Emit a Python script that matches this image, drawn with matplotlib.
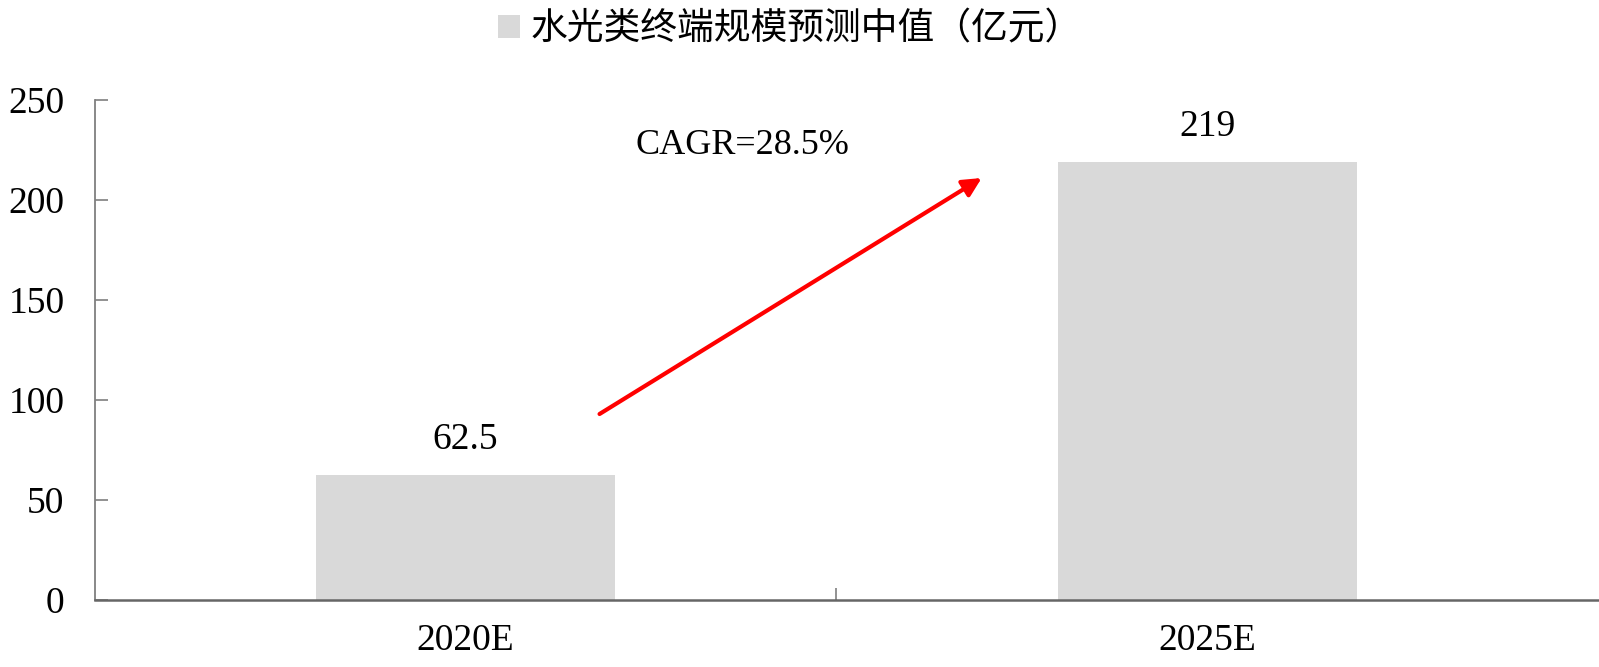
import matplotlib.pyplot as plt
from matplotlib.patches import Patch
from matplotlib.ticker import FixedLocator

plt.rcParams['font.family'] = ['Liberation Serif', 'Noto Sans CJK SC', 'DejaVu Sans']

# data
categories = ['2020E', '2025E']
values = [62.5, 219]
value_labels = ['62.5', '219']
series_name = '水光类终端规模预测中值（亿元）'
cagr_text = 'CAGR=28.5%'

bar_color = '#d9d9d9'
axis_color = '#7f7f7f'

fig = plt.figure(figsize=(15.99, 6.67), dpi=100)
ax = fig.add_axes([95 / 1599, 67 / 667, 1504 / 1599, 500 / 667])

x = list(range(len(categories)))
ax.bar(x, values, width=0.403, color=bar_color, zorder=2)

for xi, v, lab in zip(x, values, value_labels):
    ax.annotate(lab, (xi, v), xytext=(0, 13), textcoords='offset points',
                ha='center', va='bottom', fontsize=27)

ax.set_xlim(-0.499, 1.528)
ax.set_ylim(0, 250)
ax.set_yticks([0, 50, 100, 150, 200, 250])
ax.set_xticks(x)
ax.set_xticklabels(categories)
ax.xaxis.set_minor_locator(FixedLocator([0.5]))

for s in ['top', 'right']:
    ax.spines[s].set_visible(False)
ax.spines['left'].set_color(axis_color)
ax.spines['left'].set_linewidth(1.3)
ax.spines['bottom'].set_color('#666666')
ax.spines['bottom'].set_linewidth(1.8)

ax.tick_params(axis='y', direction='in', length=9, width=1.2, color=axis_color,
               labelsize=27, pad=22)
ax.tick_params(axis='x', which='major', length=0, labelsize=27, pad=17)
ax.tick_params(axis='x', which='minor', direction='in', length=9, width=1.2,
               color=axis_color)

# growth arrow
ax.annotate('', xy=(0.696, 211), xytext=(0.181, 93),
            arrowprops=dict(arrowstyle='-|>', color='red', lw=3,
                            mutation_scale=28, shrinkA=0, shrinkB=0))
ax.text(0.374, 227.5, cagr_text, ha='center', va='center', fontsize=26)

handle = Patch(facecolor=bar_color, edgecolor='none')
fig.legend([handle], [series_name], loc='center', bbox_to_anchor=(0.494, 0.955),
           frameon=False, fontsize=26.5, handlelength=0.6, handleheight=0.6,
           handletextpad=0.3)

fig.savefig('out.png', dpi=100)
